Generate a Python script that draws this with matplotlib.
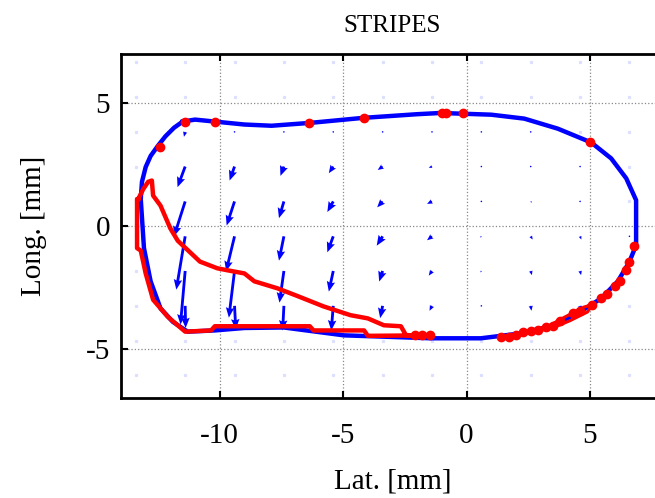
import numpy as np
import matplotlib
matplotlib.use("Agg")
import matplotlib.pyplot as plt

plt.rcParams['font.family'] = ['Liberation Serif', 'DejaVu Serif']
plt.rcParams['axes.unicode_minus'] = False

# contact patch outline (lat, long) in mm
patch_x = [-11.5, -11.0, -10.2, -9.0, -7.9, -6.3, -4.2, -2.0, -1.05, 1.0, 2.34, 3.7, 5.05, 5.86,
           6.47, 6.87, 6.87, 6.6, 6.13, 5.45, 4.64, 3.55, 2.2, 0.58, -1.45, -3.47,
           -4.97, -7.4, -9.0, -10.2, -11.3, -11.9, -12.4, -12.8, -13.07, -13.2, -13.15, -13.0,
           -12.8, -12.5, -12.2, -11.85, -11.5]
patch_y = [4.25, 4.33, 4.25, 4.13, 4.08, 4.2, 4.4, 4.55, 4.6, 4.53, 4.37, 3.96, 3.4, 2.75,
           1.94, 1.05, -0.78, -1.45, -2.25, -2.95, -3.47, -4.04, -4.37, -4.57, -4.57, -4.5,
           -4.45, -4.13, -4.15, -4.25, -4.3, -3.9, -3.35, -2.25, -0.9, 1.1, 1.8, 2.4,
           2.85, 3.27, 3.65, 4.0, 4.25]

# sliding zone path
slip_x = [-13.3, -13.1, -12.9, -12.75, -12.7, -12.4, -12.0, -11.7, -10.8, -10.1, -9.7, -9.0, -8.6,
          -7.65, -6.85, -5.8, -4.7, -4.0, -3.35, -2.66, -2.45, -1.5, -4.0, -4.15, -6.2, -6.35,
          -10.2, -10.35, -11.4, -12.1, -12.7, -13.0, -13.2, -13.35, -13.35, -13.3]
slip_y = [1.1, 1.5, 1.8, 1.85, 1.24, 0.83, -0.1, -0.6, -1.45, -1.72, -1.8, -1.93, -2.25,
          -2.54, -2.85, -3.27, -3.63, -3.76, -4.04, -4.08, -4.45, -4.45, -4.47, -4.25, -4.25, -4.08,
          -4.08, -4.25, -4.3, -3.7, -3.0, -1.93, -1.0, -0.9, 1.1, 1.1]

slip2_x = [1.4, 2.2, 3.1, 3.8, 4.75, 5.1, 4.9, 4.2, 3.6, 2.6, 1.4]
slip2_y = [-4.5, -4.4, -4.2, -3.8, -3.3, -3.2, -3.5, -3.85, -4.1, -4.35, -4.5]

# isolated slip points
pts_x = [-12.4, -11.4, -10.2, -6.4, -4.15, -1.0, -0.85, -0.15, 5.0, 6.8, 6.6, 6.45, 6.2, 6.0, 5.7,
         5.45, 5.1, -2.1, -1.8, -1.5, 1.4, 1.7, 2.0, 2.3, 2.6, 2.9, 3.2, 3.5, 3.8, 4.3, 4.6]
pts_y = [3.2, 4.22, 4.22, 4.2, 4.4, 4.6, 4.6, 4.6, 3.4, -0.8, -1.45, -1.8, -2.25, -2.46, -2.75,
         -2.95, -3.23, -4.45, -4.45, -4.45, -4.5, -4.5, -4.45, -4.32, -4.28, -4.25, -4.12, -4.05,
         -3.85, -3.55, -3.45]

# displacement grid
grid_x = [-13.4, -11.4, -9.4, -7.4, -5.4, -3.4, -1.4, 0.6, 2.6, 4.6, 6.6]
grid_y = [6.66, 5.25, 3.83, 2.42, 1.0, -0.42, -1.83, -3.25, -4.67, -6.08]

nan = np.nan
U = [
    [nan] * 11,
    [nan] * 11,
    [nan, -0.05, 0, 0, 0, 0, 0, 0, 0, nan, nan],
    [nan, -0.31, -0.2, -0.14, -0.18, -0.2, -0.13, -0.05, 0, 0, nan],
    [nan, -0.45, -0.32, -0.2, -0.24, -0.22, -0.2, -0.05, 0.05, 0, nan],
    [nan, -0.36, -0.34, -0.2, -0.24, -0.24, -0.2, -0.05, 0.08, 0.05, 0],
    [nan, -0.19, -0.23, -0.18, -0.18, -0.14, -0.13, -0.04, 0.05, 0.04, nan],
    [nan, 0.02, 0.05, -0.05, -0.08, -0.1, -0.1, 0, 0.03, 0.04, nan],
    [nan] * 11,
    [nan] * 11,
]
V = [
    [nan] * 11,
    [nan] * 11,
    [nan, -0.2, -0.03, -0.03, -0.03, -0.02, -0.02, -0.02, -0.02, nan, nan],
    [nan, -0.84, -0.57, -0.38, -0.27, -0.14, -0.05, 0, -0.02, -0.02, nan],
    [nan, -1.42, -0.98, -0.68, -0.43, -0.24, -0.1, -0.03, -0.05, -0.02, nan],
    [nan, -2.17, -1.42, -0.99, -0.65, -0.38, -0.16, -0.05, -0.13, -0.13, -0.02],
    [nan, -2.18, -1.9, -1.29, -0.84, -0.43, -0.19, -0.06, -0.17, -0.17, nan],
    [nan, -0.9, -0.95, -1.0, -1.0, -0.5, -0.2, -0.02, -0.2, -0.2, nan],
    [nan] * 11,
    [nan] * 11,
]

X, Y = np.meshgrid(grid_x, grid_y)
U = np.ma.masked_invalid(np.array(U, dtype=float))
V = np.ma.masked_invalid(np.array(V, dtype=float))

fig = plt.figure(figsize=(6.55, 4.98), dpi=100)
ax = fig.add_axes([121 / 655, 100 / 498, 543 / 655, 344 / 498])

# faint grid nodes outside the patch
ax.plot(X[U.mask], Y[U.mask], 's', color='#dcdfff', markersize=1.3, zorder=1)

ax.plot(patch_x, patch_y, color='blue', linewidth=3.2, zorder=2)
ax.quiver(X, Y, U, V, angles='xy', scale_units='xy', scale=1, color='blue',
          width=0.0052, headwidth=3.0, headlength=3.6, headaxislength=3.2,
          minlength=0.6, zorder=3)
ax.plot(slip_x, slip_y, color='red', linewidth=3.2, zorder=4)
ax.plot(slip2_x, slip2_y, color='red', linewidth=2.2, zorder=4)
ax.plot(pts_x, pts_y, 'o', color='red', markersize=6, zorder=5)

ax.set_xlim(-14, 8)
ax.set_ylim(-7, 7)
ax.set_xticks([-10, -5, 0, 5])
ax.set_yticks([-5, 0, 5])
ax.grid(True, linestyle=':', color='#888888', linewidth=0.9)
ax.tick_params(direction='in', top=True, right=True, length=5, width=1.5, labelsize=21)
ax.tick_params(axis='x', pad=18)
ax.tick_params(axis='y', pad=8)
for s in ax.spines.values():
    s.set_linewidth(2)

ax.set_title('STRIPES', fontsize=18, pad=16)
ax.set_xlabel('Lat. [mm]', fontsize=21, labelpad=14)
ax.set_ylabel('Long. [mm]', fontsize=21, labelpad=28)

fig.savefig('out.png', dpi=100)
